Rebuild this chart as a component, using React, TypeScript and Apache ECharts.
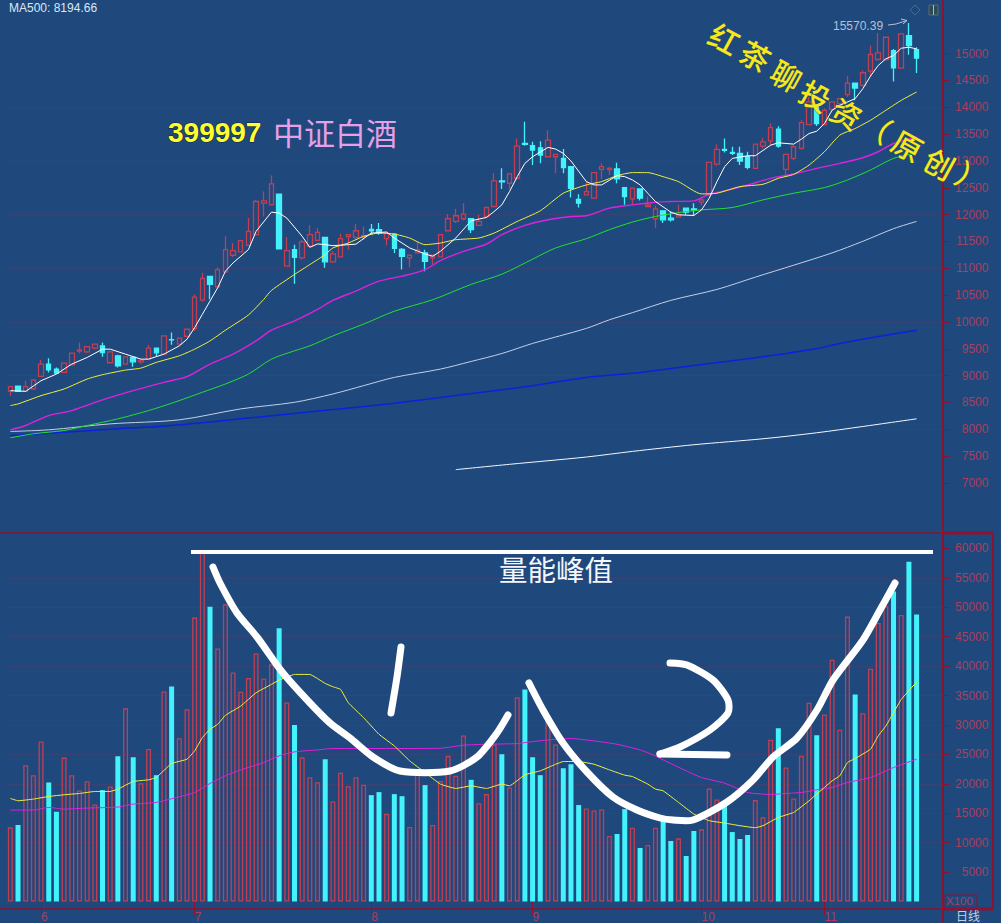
import React, { useEffect, useRef } from "react";
import * as echarts from "echarts";

const opens = [8707,8806,8707,8751,8986,9215,9122,9060,9202,9456,9444,9511,9555,9240,9369,9215,9338,9258,9307,9511,9400,9672,9586,9734,9876,10408,10847,10656,10934,11243,11305,11429,11627,12214,12184,12381,11039,11348,11194,11410,11522,11577,11119,11212,11589,11577,11583,11725,11719,11552,11638,11354,11193,11286,11286,11193,11212,11700,11873,11923,11923,11799,11966,12152,12628,12585,12678,13327,13284,13246,13079,13079,13049,12894,12282,12368,12306,12844,12838,12851,12504,12294,12480,12152,11923,12071,11935,11953,12120,12108,12232,12368,12943,13215,13159,13141,13079,12863,13277,13376,13592,12844,13048,13234,13679,14007,13679,13963,14069,14236,14452,14409,14675,14891,14891,15058,14730,15337,15077];
const closes = [8794,8707,8794,8918,9215,9109,9048,9233,9419,9480,9542,9586,9431,9444,9184,9351,9258,9283,9511,9425,9740,9666,9697,9864,10464,10810,10699,10977,11348,11330,11515,11689,12245,12258,12573,11361,11330,11206,11491,11627,11670,11120,11267,11552,11626,11700,11607,11700,11657,11657,11372,11224,11243,11341,11131,11243,11626,11923,11979,12010,11719,11873,12133,12628,12610,12758,13277,13308,13203,13110,13389,13123,12875,12492,12214,12430,12783,12894,12863,12665,12337,12492,12306,12183,12108,11904,11904,11997,12046,12089,12275,12974,13215,13197,13141,13000,12881,13314,13357,13623,13277,13122,13265,13716,14100,13697,13945,14100,14162,14452,14359,14644,14984,15015,15306,14737,15367,15151,14916];
const lows = [8627,8707,8707,8751,8986,9060,9029,9060,9202,9413,9419,9493,9351,9240,9153,9215,9165,9215,9307,9363,9400,9573,9555,9734,9833,10377,10421,10637,10915,11206,11305,11429,11627,11967,12184,11361,11039,10711,11163,11379,11503,11008,11100,11212,11348,11533,11533,11626,11626,11428,11286,10977,11020,11286,10946,11082,11212,11688,11842,11892,11657,11799,11935,12152,12480,12480,12647,13284,12925,12956,13079,12770,12770,12319,12133,12368,12306,12665,12739,12585,12183,12183,12263,12152,11750,11842,11873,11953,11997,11984,12170,12368,12912,13159,13110,12924,12844,12863,13234,13283,13246,12739,13017,13215,13679,13654,13667,13914,14038,14192,14130,14390,14563,14873,14873,14483,14730,14978,14638];
const highs = [8794,8806,8905,8918,9289,9326,9153,9233,9419,9617,9542,9598,9617,9462,9388,9351,9351,9307,9573,9524,9740,9802,9697,9864,10514,10915,10847,11020,11596,11472,11515,11936,12276,12431,12728,12381,11577,11441,11534,11800,11751,11577,11317,11645,11626,11824,11781,11824,11842,11676,11651,11379,11243,11502,11348,11255,11626,12010,12108,12214,11923,11997,12133,12770,12863,12758,13420,13729,13358,13370,13574,13123,13222,12894,12381,12616,12783,12956,12894,12968,12504,12492,12480,12337,12170,12071,12059,12182,12120,12213,12337,12974,13308,13419,13265,13265,13172,13314,13431,13697,13648,13122,13295,13759,14192,14007,13976,14100,14162,14582,14452,14687,15151,15386,15306,15089,15367,15570,15120];

const volumes = [12600,13000,23170,21470,27180,20230,15250,24460,21470,18870,20450,16500,18930,19550,24690,32830,24520,20100,25930,21470,35700,36560,27740,32660,48250,59500,50100,43000,50500,38930,35650,38000,42150,37900,40300,46440,33840,30000,24500,21130,20280,24180,17000,21870,19600,21130,19830,18080,18590,14900,18250,17900,12650,21750,19780,13000,20500,24750,21360,28200,20680,16700,18250,26700,25030,19380,34700,36050,24520,21470,30680,26700,22660,23330,16390,15820,15480,15650,11130,11470,15700,12540,9100,9600,12540,14000,10280,10730,7740,11980,12260,19210,17350,16550,11800,10620,11300,17230,14300,27500,29440,22770,17500,24750,33790,28250,31800,41080,29210,48420,35200,32000,39550,47350,50170,52700,48700,57740,48760];

// moving averages as [day index, value]
const maWhite = [[0,8720],[2,8707],[4,8905],[6,9029],[8,9215],[10,9338],[12,9493],[13,9493],[15,9400],[17,9307],[18,9307],[20,9400],[22,9555],[23,9678],[24,9895],[25,10142],[26,10390],[27,10637],[28,10946],[29,11101],[31,11348],[32,11689],[34,12047],[35,12029],[36,11936],[38,11596],[39,11392],[40,11454],[41,11441],[42,11422],[44,11440],[45,11450],[47,11657],[49,11676],[50,11564],[52,11379],[54,11267],[55,11224],[56,11317],[58,11564],[60,11886],[62,11948],[63,12059],[64,12183],[65,12430],[66,12708],[67,12956],[68,13079],[70,13253],[71,13222],[72,13141],[73,13000],[75,12616],[76,12554],[77,12554],[79,12727],[80,12708],[81,12647],[82,12554],[83,12399],[84,12244],[86,12046],[87,11997],[89,11984],[90,12089],[91,12306],[92,12615],[93,12893],[94,13048],[96,13098],[97,13098],[99,13295],[100,13339],[102,13314],[103,13407],[104,13512],[105,13555],[106,13697],[107,13945],[108,14038],[110,14162],[111,14347],[112,14582],[113,14780],[114,14904],[115,14965],[116,15101],[117,15120],[118,15089]];
const maYellow = [[0,8442],[1,8472],[4,8627],[7,8751],[10,8936],[12,9017],[15,9103],[17,9140],[19,9246],[22,9369],[24,9493],[26,9647],[28,9846],[31,10130],[33,10421],[34,10588],[37,10885],[39,11070],[41,11256],[42,11379],[44,11471],[46,11595],[48,11657],[50,11638],[52,11564],[54,11440],[56,11471],[58,11533],[61,11564],[63,11657],[66,11873],[69,12071],[72,12399],[75,12554],[77,12616],[79,12727],[81,12783],[83,12783],[85,12708],[87,12615],[90,12386],[92,12399],[95,12522],[98,12566],[100,12677],[102,12751],[104,12924],[106,13172],[108,13481],[110,13605],[112,13759],[114,13945],[116,14130],[118,14285]];
const maMagenta = [[0,7990],[2,8070],[5,8256],[8,8349],[12,8547],[16,8720],[20,8875],[23,8980],[26,9215],[29,9400],[32,9647],[34,9846],[37,10019],[40,10235],[42,10401],[45,10575],[48,10760],[51,10853],[54,10977],[56,11144],[59,11317],[62,11453],[64,11626],[67,11799],[70,11904],[73,11966],[75,11979],[78,12121],[81,12183],[84,12232],[86,12244],[89,12256],[91,12380],[93,12442],[96,12553],[99,12677],[102,12757],[105,12863],[108,12955],[111,13060],[113,13172],[115,13326],[118,13450]];
const maGreen = [[0,7842],[3,7916],[7,7978],[10,8070],[14,8194],[18,8349],[21,8485],[25,8689],[28,8844],[31,9029],[34,9307],[37,9462],[39,9555],[42,9740],[46,9960],[50,10200],[55,10415],[60,10700],[64,10890],[68,11170],[71,11379],[75,11552],[78,11719],[81,11861],[84,11966],[88,12059],[90,12089],[94,12133],[98,12275],[102,12399],[106,12504],[109,12646],[112,12832],[115,13048],[118,13150]];
const maGrey = [[0,7959],[5,7990],[13,8101],[22,8176],[30,8380],[37,8503],[42,8658],[46,8813],[50,8967],[56,9122],[60,9264],[64,9412],[68,9600],[75,9880],[78,10040],[81,10173],[86,10402],[92,10606],[97,10835],[102,11058],[107,11287],[111,11503],[115,11738],[118,11874]];
const maBlue = [[0,7885],[5,7928],[13,8000],[21,8070],[30,8194],[42,8367],[50,8485],[59,8646],[68,8813],[75,8967],[81,9042],[86,9134],[94,9277],[101,9413],[105,9505],[108,9598],[113,9728],[118,9846]];
const ma500 = [[58,7248],[65,7347],[75,7483],[81,7588],[89,7712],[98,7823],[105,7935],[111,8052],[118,8195]];
const volMaYellow = [[0,17515],[1,17120],[3,17400],[5,17850],[7,18140],[9,18360],[11,18700],[13,18700],[14,19100],[16,20400],[18,20680],[19,21075],[21,23450],[23,24180],[24,25600],[25,27850],[26,29270],[27,30110],[28,31640],[30,33220],[32,35480],[34,36900],[35,37630],[37,38590],[39,38590],[41,37060],[42,36500],[43,36050],[44,33790],[46,31240],[48,28420],[50,26440],[52,23900],[54,21920],[56,19950],[58,19210],[60,19660],[62,19210],[64,19950],[65,19660],[67,21530],[69,22200],[71,23330],[72,23790],[74,23790],[76,23330],[78,22370],[80,21470],[81,21240],[83,19950],[84,19100],[85,18810],[87,16840],[89,14860],[91,13730],[93,13330],[95,12880],[97,12540],[98,12880],[100,14290],[102,15140],[104,17120],[106,19380],[107,20510],[108,21360],[109,23620],[110,24300],[112,25880],[113,28140],[114,29830],[115,32090],[116,34350],[118,37290]];
const volMaMagenta = [[0,15540],[3,15540],[5,15990],[7,15700],[10,15880],[14,16050],[16,16550],[19,16840],[22,17800],[24,18530],[26,20060],[28,21360],[30,22370],[33,23620],[35,24750],[37,25430],[40,25760],[42,26000],[45,26000],[50,26000],[56,26050],[59,26560],[62,26720],[66,26840],[68,27180],[71,27570],[73,27690],[76,27290],[79,26720],[82,25760],[84,24750],[85,24070],[88,22200],[90,21070],[93,20110],[96,18530],[99,18190],[101,18360],[103,18530],[105,18980],[107,19380],[109,20230],[112,21070],[115,22770],[118,24180]];

const monthPositions = [4, 24, 47, 68, 90, 106];
const monthLabels = ["6", "7", "8", "9", "10", "11"];
const priceTicks = [7000,7500,8000,8500,9000,9500,10000,10500,11000,11500,12000,12500,13000,13500,14000,14500,15000];
const volumeTicks = [5000,10000,15000,20000,25000,30000,35000,40000,45000,50000,55000,60000];
const categories = Array.from({ length: 122 }, (_, i) => {
  const m = monthPositions.indexOf(i);
  return m >= 0 ? monthLabels[m] : "";
});

const BG = "#1f487d";
const RED = "#c23f52";
const CYAN = "#44f2fb";
const FRAME = "#8c1430";
const AXIS_TEXT = "#a8405e";
const GRID_LINE = "rgba(125,55,90,0.28)";
const LATIN = '"Liberation Sans", Arial, sans-serif';
const CJK = '"Noto Sans CJK SC", sans-serif';

const frameLine = (x1: number, y1: number, x2: number, y2: number, w: number, color = FRAME, z = 50) => ({
  type: "line", z, shape: { x1, y1, x2, y2 }, style: { stroke: color, lineWidth: w },
});
const stroke = (points: number[][], lineWidth = 7, smooth = 0.25) => ({
  type: "polyline", z: 90, shape: { points, smooth },
  style: { stroke: "#ffffff", fill: "none", lineWidth, lineCap: "round", lineJoin: "round" },
});
const label = (text: string, x: number, y: number, font: string, fill: string, extra: any = {}, rotation = 0, center = false) => ({
  type: "text", z: 95, x, y, rotation,
  style: {
    text, font, fill,
    textAlign: center ? "center" : "left", align: center ? "center" : "left",
    verticalAlign: "middle", textVerticalAlign: "middle", textBaseline: "middle",
    ...extra,
  },
});
const brush = (text: string, x: number, y: number, size = 30) =>
  label(text, x, y, `500 ${size}px ${CJK}`, "#f6e81e", { stroke: "#3a4a3a", lineWidth: 0.4 }, -0.5, true);

const lineSeries = (name: string, data: number[][], color: string, width: number, axis: number, smooth: number | boolean = 0.3) => ({
  name, type: "line", data, xAxisIndex: axis, yAxisIndex: axis,
  showSymbol: false, symbol: "none", silent: true, smooth,
  lineStyle: { color, width },
});
const plain = (v: number) => String(v);

export default function App() {
  const ref = useRef<HTMLDivElement>(null);
  useEffect(() => {
    document.body.style.margin = "0";
    const chart = echarts.init(ref.current!, undefined, { renderer: "svg" });
    const xBase = {
      type: "category", data: categories, boundaryGap: true,
    };
    chart.setOption({
      animation: false,
      backgroundColor: BG,
      grid: [
        { left: 6.5, width: 936.96, top: -2.4, height: 539 },
        { left: 6.5, width: 936.96, top: 533, height: 369.5 },
      ],
      xAxis: [
        { ...xBase, gridIndex: 0, axisLine: { show: false }, axisTick: { show: false }, axisLabel: { show: false }, splitLine: { show: false } },
        {
          ...xBase, gridIndex: 1, position: "bottom", offset: 6.5,
          axisLine: { show: false },
          axisTick: {
            show: true, alignWithLabel: true, length: 14,
            interval: (i: number) => monthPositions.includes(i),
            lineStyle: { color: FRAME, width: 1 },
          },
          axisLabel: {
            show: true, interval: (i: number) => monthPositions.includes(i),
            align: "left", margin: 3, padding: 0,
            color: AXIS_TEXT, fontSize: 12, fontFamily: LATIN,
          },
          splitLine: { show: false },
        },
      ],
      yAxis: [
        {
          type: "value", gridIndex: 0, position: "right", min: 6000, max: 16000, interval: 500,
          axisLine: { show: false },
          axisTick: { show: true, length: 6, customValues: priceTicks, lineStyle: { color: FRAME } },
          axisLabel: {
            show: true, customValues: priceTicks, margin: 45, align: "right", formatter: plain,
            color: AXIS_TEXT, fontSize: 12, fontFamily: LATIN,
          },
          splitLine: { show: true, showMinLine: false, showMaxLine: false, lineStyle: { color: ["transparent", GRID_LINE], width: 1 } },
        },
        {
          type: "value", gridIndex: 1, position: "right", min: 0, max: 62627, interval: 5000,
          axisLine: { show: false },
          axisTick: { show: true, length: 6, customValues: volumeTicks, lineStyle: { color: FRAME } },
          axisLabel: {
            show: true, customValues: volumeTicks, margin: 45, align: "right", formatter: plain,
            color: AXIS_TEXT, fontSize: 12, fontFamily: LATIN,
          },
          splitLine: { show: true, showMinLine: false, showMaxLine: false, lineStyle: { color: GRID_LINE, width: 1 } },
        },
      ],
      series: [
        {
          name: "K", type: "candlestick", xAxisIndex: 0, yAxisIndex: 0, barWidth: 5, silent: true,
          data: opens.map((o, i) => [o, closes[i], lows[i], highs[i]]),
          itemStyle: { color: "transparent", color0: CYAN, borderColor: RED, borderColor0: CYAN, borderWidth: 1.3 },
        },
        lineSeries("MA500", ma500, "#f4f8ff", 1, 0),
        lineSeries("MA-blue", maBlue, "#0a22dd", 1.5, 0),
        lineSeries("MA-grey", maGrey, "#c4d0e6", 1, 0),
        lineSeries("MA-green", maGreen, "#22e030", 1, 0),
        lineSeries("MA-magenta", maMagenta, "#dd22dd", 1.4, 0),
        lineSeries("MA-yellow", maYellow, "#f2f23a", 1, 0, 0.2),
        lineSeries("MA-white", maWhite, "#ffffff", 1, 0, false),
        {
          name: "VOL", type: "bar", xAxisIndex: 1, yAxisIndex: 1, barWidth: 5, silent: true,
          data: volumes.map((v, i) => ({
            value: v,
            itemStyle: closes[i] >= opens[i]
              ? { color: "transparent", borderColor: RED, borderWidth: 1.3 }
              : { color: CYAN, borderWidth: 0 },
          })),
        },
        lineSeries("VOL-magenta", volMaMagenta, "#dd22dd", 1, 1, 0.2),
        lineSeries("VOL-yellow", volMaYellow, "#f2f23a", 1, 1, 0.1),
      ],
      graphic: [
        frameLine(0, 533, 943, 533, 1.5),
        frameLine(943, 533, 993, 533, 3),
        frameLine(0, 909, 943, 909, 1.5),
        frameLine(943, 909, 993, 909, 3),
        frameLine(943, 0, 943, 923, 2),
        frameLine(993, 533, 993, 909, 2),
        { type: "rect", z: 50, shape: { x: 945, y: 895, width: 32, height: 14 }, style: { fill: "none", stroke: FRAME, lineWidth: 1 } },
        label("X100", 946, 901, `11.5px ${LATIN}`, AXIS_TEXT),
        label("日线", 956, 915.5, `12px ${CJK}`, "#c3d2e4"),
        label("MA500: 8194.66", 9, 7.5, `12px ${LATIN}`, "#d8e8f6"),
        label("15570.39", 833, 26, `12px ${LATIN}`, "#b2c2d6"),
        { type: "polyline", z: 90, shape: { points: [[888, 25], [896, 24], [907, 20.5]] }, style: { stroke: "#b2c2d6", fill: "none", lineWidth: 1 } },
        { type: "polyline", z: 90, shape: { points: [[901, 19], [907, 20.5], [903, 24]] }, style: { stroke: "#b2c2d6", fill: "none", lineWidth: 1 } },
        { type: "polygon", z: 90, shape: { points: [[915, 5], [920, 10], [915, 15], [910, 10]] }, style: { stroke: "#4d6a8e", fill: "none", lineWidth: 1 } },
        { type: "rect", z: 90, shape: { x: 929, y: 5, width: 9, height: 10 }, style: { stroke: "#5a6a70", fill: "#2a4a55", lineWidth: 1 } },
        { type: "line", z: 91, shape: { x1: 933.5, y1: 5, x2: 933.5, y2: 15 }, style: { stroke: "#7fd0c0", lineWidth: 1 } },
        label("399997", 168, 132, `bold 28px ${LATIN}`, "#ffff30", { stroke: "#10203a", lineWidth: 1 }),
        label("中证白酒", 273, 131, `31px ${CJK}`, "#e6a0e6"),
        label("量能峰值", 499, 568, `28.5px ${CJK}`, "#f4f6fa"),
        brush("红", 725, 38),
        brush("茶", 756, 55),
        brush("聊", 787, 75),
        brush("投", 816, 95),
        brush("资", 847, 113),
        brush("（", 877, 126),
        brush("原", 908, 145),
        brush("创", 940, 163),
        brush("）", 972, 177),
        frameLine(191, 552, 933, 552, 4, "#ffffff", 92),
        stroke([[213, 567], [220, 583], [237, 613], [257, 637], [283, 673], [310, 703], [330, 723], [350, 738], [373, 757], [400, 771], [450, 771], [477, 757], [497, 733], [508, 715]]),
        stroke([[401, 647], [397, 677], [391, 713]]),
        stroke([[529, 683], [543, 710], [563, 743], [587, 772], [613, 797], [637, 810], [660, 818], [673, 820], [693, 820], [727, 802], [753, 780], [773, 757], [797, 738], [817, 710], [833, 680], [863, 640], [880, 610], [895, 583]]),
        stroke([[670, 663], [687, 665], [713, 680], [728, 700], [728, 713], [710, 730], [680, 747], [660, 754]]),
        stroke([[660, 754], [727, 755]], 7, 0),
      ],
    });
    return () => chart.dispose();
  }, []);
  return <div ref={ref} style={{ width: 1001, height: 923, position: "absolute", left: 0, top: 0 }} />;
}
